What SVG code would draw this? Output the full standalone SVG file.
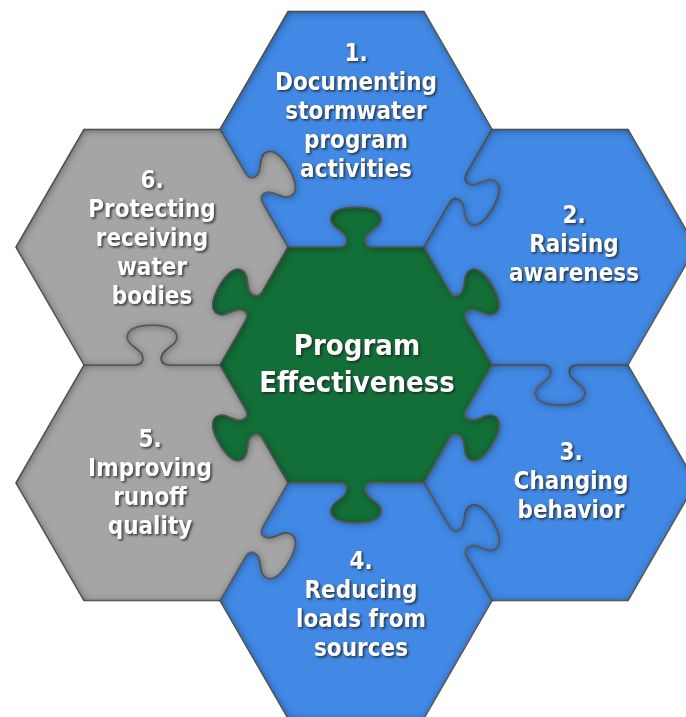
<svg xmlns="http://www.w3.org/2000/svg" width="686" height="717" viewBox="0 0 686 717">
<defs>
<style>
.pc{stroke:#6a6a6a;stroke-width:1.5;stroke-linejoin:round;filter:url(#inset)}
.blue{fill:#4189e5}
.gray{fill:#a5a5a5}
.green{fill:#136f38}
.lbl{font-family:"DejaVu Sans Condensed","DejaVu Sans",Verdana,sans-serif;font-weight:bold;font-size:24px;fill:#ffffff;text-anchor:middle}
.ttl{font-size:29px}
.tx{filter:url(#ts)}
</style>
<filter id="inset" x="-10%" y="-10%" width="120%" height="120%" color-interpolation-filters="sRGB">
<feComponentTransfer in="SourceAlpha" result="inv"><feFuncA type="table" tableValues="1 0"/></feComponentTransfer>
<feGaussianBlur in="inv" stdDeviation="4"/>
<feOffset dx="1" dy="1" result="blur"/>
<feFlood flood-color="#000" flood-opacity="0.45"/>
<feComposite in2="blur" operator="in"/>
<feComposite in2="SourceAlpha" operator="in" result="sh"/>
<feMerge><feMergeNode in="SourceGraphic"/><feMergeNode in="sh"/></feMerge>
</filter>
<filter id="ts" x="-10%" y="-20%" width="130%" height="150%" color-interpolation-filters="sRGB">
<feDropShadow dx="1.5" dy="1.5" stdDeviation="1" flood-color="#202020" flood-opacity="0.85"/>
</filter>
</defs>
<rect width="686" height="717" fill="#ffffff"/>

<g id="node1">
<path class="pc blue" transform="translate(356,129.4)" d="M-68,-117.8 L68,-117.8 L136,0 L111,43.31 c-4,6.93 -1.54,10.66 4.66,11.93 c7.56,0.9 16.66,-8.86 23.95,-3.49 c7.29,5.37 2.03,18.49 -2.97,27.15 c-5,8.66 -13.73,19.78 -22.03,16.15 c-8.29,-3.63 -4.39,-16.39 -8.95,-22.49 c-4.2,-4.73 -8.66,-5 -12.66,1.93 L68,117.8 L18,117.8 c-8,0 -10,-4 -8,-10 c3,-7 16,-10 15,-19 c-1,-9 -15,-11 -25,-11 c-10,0 -24,2 -25,11 c-1,9 12,12 15,19 c2,6 0,10 -8,10 L-68,117.8 L-93,74.49 c-4,-6.93 -1.54,-10.66 4.66,-11.93 c7.56,-0.9 16.66,8.86 23.95,3.49 c7.29,-5.37 2.03,-18.49 -2.97,-27.15 c-5,-8.66 -13.73,-19.78 -22.03,-16.15 c-8.29,3.63 -4.39,16.39 -8.95,22.49 c-4.2,4.73 -8.66,5 -12.66,-1.93 L-136,0 Z"/>
<g class="tx"><text class="lbl" x="356" y="61">1.</text><text class="lbl" x="356" y="90">Documenting</text><text class="lbl" x="356" y="119">stormwater</text><text class="lbl" x="356" y="148">program</text><text class="lbl" x="356" y="177">activities</text></g>
</g>

<g id="node2">
<path class="pc blue" transform="translate(560,247.2)" d="M-68,-117.8 L68,-117.8 L136,0 L68,117.8 L18,117.8 c-8,0 -10,4 -8,10 c3,7 16,10 15,19 c-1,9 -15,11 -25,11 c-10,0 -24,-2 -25,-11 c-1,-9 12,-12 15,-19 c2,-6 0,-10 -8,-10 L-68,117.8 L-93,74.49 c-4,-6.93 -1.54,-10.66 4.66,-11.93 c7.56,-0.9 16.66,8.86 23.95,3.49 c7.29,-5.37 2.03,-18.49 -2.97,-27.15 c-5,-8.66 -13.73,-19.78 -22.03,-16.15 c-8.29,3.63 -4.39,16.39 -8.95,22.49 c-4.2,4.73 -8.66,5 -12.66,-1.93 L-136,0 L-111,-43.31 c4,-6.93 8.46,-6.66 12.66,-1.93 c4.56,6.1 0.66,18.86 8.95,22.49 c8.29,3.63 17.03,-7.49 22.03,-16.15 c5,-8.66 10.27,-21.78 2.97,-27.15 c-7.29,-5.37 -16.39,4.39 -23.95,3.49 c-6.2,-1.27 -8.66,-5 -4.66,-11.93 Z"/>
<g class="tx"><text class="lbl" x="574" y="223">2.</text><text class="lbl" x="574" y="252">Raising</text><text class="lbl" x="574" y="281">awareness</text></g>
</g>

<g id="node3">
<path class="pc blue" transform="translate(560,482.8)" d="M-68,-117.8 L-18,-117.8 c8,0 10,4 8,10 c-3,7 -16,10 -15,19 c1,9 15,11 25,11 c10,0 24,-2 25,-11 c1,-9 -12,-12 -15,-19 c-2,-6 0,-10 8,-10 L68,-117.8 L136,0 L68,117.8 L-68,117.8 L-93,74.49 c-4,-6.93 -1.54,-10.66 4.66,-11.93 c7.56,-0.9 16.66,8.86 23.95,3.49 c7.29,-5.37 2.03,-18.49 -2.97,-27.15 c-5,-8.66 -13.73,-19.78 -22.03,-16.15 c-8.29,3.63 -4.39,16.39 -8.95,22.49 c-4.2,4.73 -8.66,5 -12.66,-1.93 L-136,0 L-111,-43.31 c4,-6.93 8.46,-6.66 12.66,-1.93 c4.56,6.1 0.66,18.86 8.95,22.49 c8.29,3.63 17.03,-7.49 22.03,-16.15 c5,-8.66 10.27,-21.78 2.97,-27.15 c-7.29,-5.37 -16.39,4.39 -23.95,3.49 c-6.2,-1.27 -8.66,-5 -4.66,-11.93 Z"/>
<g class="tx"><text class="lbl" x="571" y="460">3.</text><text class="lbl" x="571" y="489">Changing</text><text class="lbl" x="571" y="518">behavior</text></g>
</g>

<g id="node4">
<path class="pc blue" transform="translate(356,600.6)" d="M-68,-117.8 L-18,-117.8 c8,0 10,4 8,10 c-3,7 -16,10 -15,19 c1,9 15,11 25,11 c10,0 24,-2 25,-11 c1,-9 -12,-12 -15,-19 c-2,-6 0,-10 8,-10 L68,-117.8 L93,-74.49 c4,6.93 8.46,6.66 12.66,1.93 c4.56,-6.1 0.66,-18.86 8.95,-22.49 c8.29,-3.63 17.03,7.49 22.03,16.15 c5,8.66 10.27,21.78 2.97,27.15 c-7.29,5.37 -16.39,-4.39 -23.95,-3.49 c-6.2,1.27 -8.66,5 -4.66,11.93 L136,0 L68,117.8 L-68,117.8 L-136,0 L-111,-43.31 c4,-6.93 8.46,-6.66 12.66,-1.93 c4.56,6.1 0.66,18.86 8.95,22.49 c8.29,3.63 17.03,-7.49 22.03,-16.15 c5,-8.66 10.27,-21.78 2.97,-27.15 c-7.29,-5.37 -16.39,4.39 -23.95,3.49 c-6.2,-1.27 -8.66,-5 -4.66,-11.93 Z"/>
<g class="tx"><text class="lbl" x="361" y="569">4.</text><text class="lbl" x="361" y="598">Reducing</text><text class="lbl" x="361" y="627">loads from</text><text class="lbl" x="361" y="656">sources</text></g>
</g>

<g id="node5">
<path class="pc gray" transform="translate(152,482.8)" d="M-68,-117.8 L-18,-117.8 c8,0 10,-4 8,-10 c-3,-7 -16,-10 -15,-19 c1,-9 15,-11 25,-11 c10,0 24,2 25,11 c1,9 -12,12 -15,19 c-2,6 0,10 8,10 L68,-117.8 L93,-74.49 c4,6.93 1.54,10.66 -4.66,11.93 c-7.56,0.9 -16.66,-8.86 -23.95,-3.49 c-7.29,5.37 -2.03,18.49 2.97,27.15 c5,8.66 13.73,19.78 22.03,16.15 c8.29,-3.63 4.39,-16.39 8.95,-22.49 c4.2,-4.73 8.66,-5 12.66,1.93 L136,0 L111,43.31 c-4,6.93 -1.54,10.66 4.66,11.93 c7.56,0.9 16.66,-8.86 23.95,-3.49 c7.29,5.37 2.03,18.49 -2.97,27.15 c-5,8.66 -13.73,19.78 -22.03,16.15 c-8.29,-3.63 -4.39,-16.39 -8.95,-22.49 c-4.2,-4.73 -8.66,-5 -12.66,1.93 L68,117.8 L-68,117.8 L-136,0 Z"/>
<g class="tx"><text class="lbl" x="150" y="447">5.</text><text class="lbl" x="150" y="476">Improving</text><text class="lbl" x="150" y="505">runoff</text><text class="lbl" x="150" y="534">quality</text></g>
</g>

<g id="node6">
<path class="pc gray" transform="translate(152,247.2)" d="M-68,-117.8 L68,-117.8 L93,-74.49 c4,6.93 8.46,6.66 12.66,1.93 c4.56,-6.1 0.66,-18.86 8.95,-22.49 c8.29,-3.63 17.03,7.49 22.03,16.15 c5,8.66 10.27,21.78 2.97,27.15 c-7.29,5.37 -16.39,-4.39 -23.95,-3.49 c-6.2,1.27 -8.66,5 -4.66,11.93 L136,0 L111,43.31 c-4,6.93 -8.46,6.66 -12.66,1.93 c-4.56,-6.1 -0.66,-18.86 -8.95,-22.49 c-8.29,-3.63 -17.03,7.49 -22.03,16.15 c-5,8.66 -10.27,21.78 -2.97,27.15 c7.29,5.37 16.39,-4.39 23.95,-3.49 c6.2,1.27 8.66,5 4.66,11.93 L68,117.8 L18,117.8 c-8,0 -10,-4 -8,-10 c3,-7 16,-10 15,-19 c-1,-9 -15,-11 -25,-11 c-10,0 -24,2 -25,11 c-1,9 12,12 15,19 c2,6 0,10 -8,10 L-68,117.8 L-136,0 Z"/>
<g class="tx"><text class="lbl" x="152" y="188">6.</text><text class="lbl" x="152" y="217">Protecting</text><text class="lbl" x="152" y="246">receiving</text><text class="lbl" x="152" y="275">water</text><text class="lbl" x="152" y="304">bodies</text></g>
</g>

<g id="center">
<path class="pc green" transform="translate(356,365)" d="M-68,-117.8 L-18,-117.8 c8,0 10,-4 8,-10 c-3,-7 -16,-10 -15,-19 c1,-9 15,-11 25,-11 c10,0 24,2 25,11 c1,9 -12,12 -15,19 c-2,6 0,10 8,10 L68,-117.8 L93,-74.49 c4,6.93 8.46,6.66 12.66,1.93 c4.56,-6.1 0.66,-18.86 8.95,-22.49 c8.29,-3.63 17.03,7.49 22.03,16.15 c5,8.66 10.27,21.78 2.97,27.15 c-7.29,5.37 -16.39,-4.39 -23.95,-3.49 c-6.2,1.27 -8.66,5 -4.66,11.93 L136,0 L111,43.31 c-4,6.93 -1.54,10.66 4.66,11.93 c7.56,0.9 16.66,-8.86 23.95,-3.49 c7.29,5.37 2.03,18.49 -2.97,27.15 c-5,8.66 -13.73,19.78 -22.03,16.15 c-8.29,-3.63 -4.39,-16.39 -8.95,-22.49 c-4.2,-4.73 -8.66,-5 -12.66,1.93 L68,117.8 L18,117.8 c-8,0 -10,4 -8,10 c3,7 16,10 15,19 c-1,9 -15,11 -25,11 c-10,0 -24,-2 -25,-11 c-1,-9 12,-12 15,-19 c2,-6 0,-10 -8,-10 L-68,117.8 L-93,74.49 c-4,-6.93 -8.46,-6.66 -12.66,-1.93 c-4.56,6.1 -0.66,18.86 -8.95,22.49 c-8.29,3.63 -17.03,-7.49 -22.03,-16.15 c-5,-8.66 -10.27,-21.78 -2.97,-27.15 c7.29,-5.37 16.39,4.39 23.95,3.49 c6.2,-1.27 8.66,-5 4.66,-11.93 L-136,0 L-111,-43.31 c4,-6.93 1.54,-10.66 -4.66,-11.93 c-7.56,-0.9 -16.66,8.86 -23.95,3.49 c-7.29,-5.37 -2.03,-18.49 2.97,-27.15 c5,-8.66 13.73,-19.78 22.03,-16.15 c8.29,3.63 4.39,16.39 8.95,22.49 c4.2,4.73 8.66,5 12.66,-1.93 Z"/>
<g class="tx"><text class="lbl ttl" x="357" y="355">Program</text><text class="lbl ttl" x="357" y="392">Effectiveness</text></g>
</g>
</svg>
